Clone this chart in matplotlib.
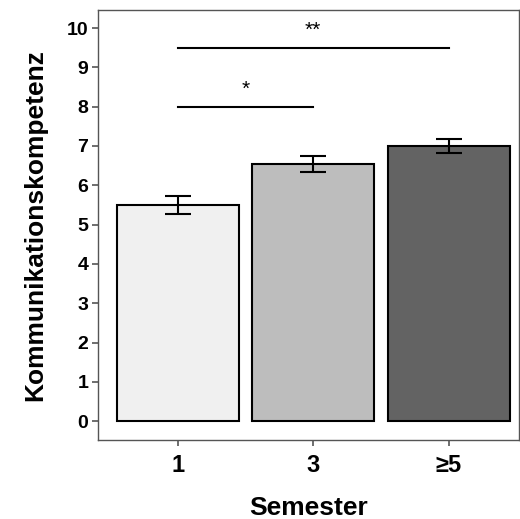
import matplotlib.pyplot as plt
import numpy as np

plt.rcParams['font.family'] = ['Liberation Sans', 'DejaVu Sans']

semester = ["1", "3", "≥5"]
means = [5.51, 6.55, 7.01]
errs = [0.23, 0.20, 0.18]
colors = ["#f0f0f0", "#bdbdbd", "#636363"]

# significance brackets: (from, to, y, label)
sig = [(0, 1, 8.0, "*"), (0, 2, 9.5, "**")]

fig = plt.figure(figsize=(5.2, 5.19), dpi=100)
ax = fig.add_axes([98/520, 1 - 440/519, 421/520, 430/519])

x = np.arange(len(semester))
ax.bar(x, means, 0.9, color=colors, edgecolor='k', lw=1.5, zorder=2)
ax.errorbar(x, means, yerr=errs, fmt='none', ecolor='k', elinewidth=1.5,
            capsize=9.5, capthick=1.5, zorder=3)

for a, b, y, lbl in sig:
    ax.plot([a, b], [y, y], color='k', lw=1.5)
    ax.text((a + b) / 2, y + 0.2, lbl, ha='center', va='bottom', fontsize=15)

ax.set_xlim(-0.59, 2.52)
ax.set_ylim(-0.48, 10.46)
ax.set_yticks(range(0, 11))
ax.set_xticks(x)
ax.set_xticklabels(semester, fontsize=17, fontweight='bold')
for t in ax.get_yticklabels():
    t.set_fontsize(14)
    t.set_fontweight('bold')
ax.tick_params(axis='both', color='#555555', length=4, width=1.2, pad=3)
ax.tick_params(axis='x', pad=6)
for s in ax.spines.values():
    s.set_color('#555555')
    s.set_linewidth(1)

ax.set_xlabel("Semester", fontsize=19, fontweight='bold', labelpad=14)
ax.set_ylabel("Kommunikationskompetenz", fontsize=19, fontweight='bold', labelpad=14)

fig.savefig("out.png")
